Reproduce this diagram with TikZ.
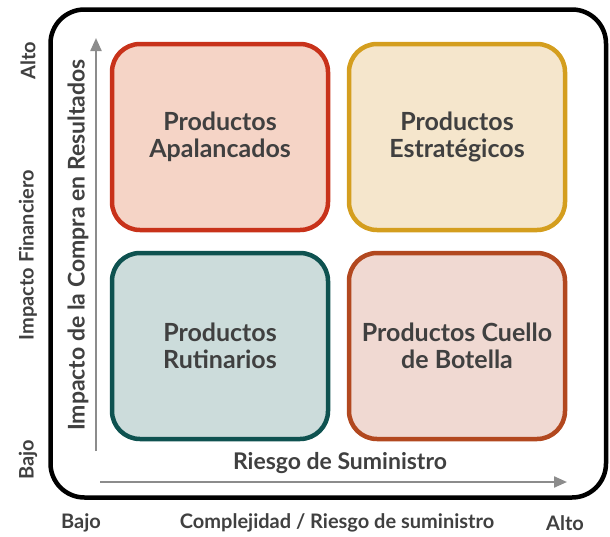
\documentclass[tikz,border=0pt]{standalone}
\usepackage{fontspec}
\setmainfont{Lato}
\usetikzlibrary{positioning, arrows.meta}

\definecolor{txtgray}{HTML}{404040}
\definecolor{axisgray}{HTML}{8C8C8C}
\definecolor{apalline}{HTML}{C8321A}
\definecolor{apalfill}{HTML}{F5D4C6}
\definecolor{estrline}{HTML}{D49E1E}
\definecolor{estrfill}{HTML}{F5E6CC}
\definecolor{rutinline}{HTML}{0E5250}
\definecolor{rutinfill}{HTML}{CCDCDB}
\definecolor{cuelloline}{HTML}{B2481F}
\definecolor{cuellofill}{HTML}{F0D9D2}

\begin{document}
\begin{tikzpicture}[x=1pt, y=-1pt,
    quad/.style={draw, line width=4.5pt, rounded corners=28pt,
      minimum width=216pt, minimum height=186pt, align=center,
      font=\bfseries\fontsize{25}{27}\selectfont, text=txtgray},
    axisarrow/.style={draw=axisgray, line width=2.2pt,
      -{Triangle[length=13pt, width=11pt]}},
    sidelabel/.style={font=\bfseries\fontsize{20}{22}\selectfont, text=txtgray},
    axislabel/.style={font=\bfseries\fontsize{23}{26}\selectfont, text=txtgray}]
    \useasboundingbox (0,0) rectangle (610,536);

    % Outer frame
    \draw[line width=4.5pt, rounded corners=34pt] (50.5,9.5) rectangle (606,497.5);

    % Quadrants
    \node[quad, draw=apalline, fill=apalfill] (apal) at (220,137) {Productos\\Apalancados};
    \node[quad, draw=estrline, fill=estrfill] (estr) at (457,137) {Productos\\Estratégicos};
    \node[quad, draw=rutinline, fill=rutinfill] (rutin) at (220,346) {Productos\\Rutinarios};
    \node[quad, draw=cuelloline, fill=cuellofill] (cuello) at (457,346) {Productos Cuello\\de Botella};

    % Axes
    \coordinate (vstart) at (96,451);
    \coordinate (vend) at (96,38);
    \coordinate (hstart) at (100,482);
    \coordinate (hend) at (567,482);
    \draw[axisarrow] (vstart) -- (vend);
    \draw[axisarrow] (hstart) -- (hend);

    \node[axislabel, rotate=90] (vlabel) at (78,245) {Impacto de la Compra en Resultados};
    \node[axislabel] (hlabel) at (340,463) {Riesgo de Suministro};

    % Outside labels
    \node[sidelabel, rotate=90] (valto) at (28,61) {Alto};
    \node[sidelabel, rotate=90] (vname) at (28,255) {Impacto Financiero};
    \node[sidelabel, rotate=90] (vbajo) at (28,460) {Bajo};
    \node[sidelabel] (hbajo) at (81,523) {Bajo};
    \node[sidelabel] (hname) at (337,523) {Complejidad / Riesgo de suministro};
    \node[sidelabel] (halto) at (565,523) {Alto};
\end{tikzpicture}
\end{document}
